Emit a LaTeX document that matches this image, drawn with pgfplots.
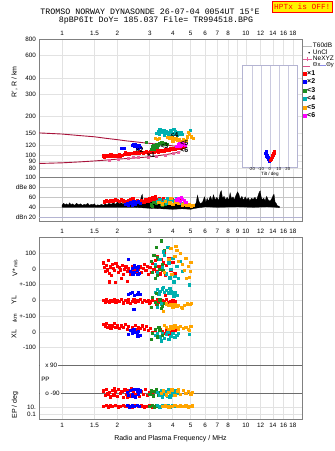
\documentclass[border=0pt]{standalone}
\usepackage{fontspec}
\setmainfont{Liberation Sans}
\newfontfamily\monofont{Liberation Mono}
\usepackage{pgfplots}
\pgfplotsset{compat=1.18}

\definecolor{framec}{HTML}{808080}
\definecolor{gridc}{HTML}{E2E2E2}
\definecolor{c1}{HTML}{FF0000}
\definecolor{c2}{HTML}{0000FF}
\definecolor{c3}{HTML}{1E8C1E}
\definecolor{c4}{HTML}{00B0B0}
\definecolor{c5}{HTML}{FFA500}
\definecolor{c6}{HTML}{FF00FF}
\definecolor{maroonc}{HTML}{A8123A}
\definecolor{nepink}{HTML}{E8609A}
\definecolor{lav}{HTML}{B4B4D2}
\definecolor{thy}{HTML}{8C8CE6}

\pgfplotsset{
  pts/.style={only marks, mark=square*, mark size=1.1pt, forget plot},
}

\begin{document}
\begin{tikzpicture}
\path[use as bounding box] (0pt,0pt) rectangle (335pt,451pt);

% ---------------- header ----------------
\node[font=\monofont\fontsize{8.3}{9}\selectfont, inner sep=0pt] at (150pt,439pt)
  {TROMSO NORWAY   DYNASONDE 26-07-04 0054UT 15°E};
\node[font=\monofont\fontsize{8.3}{9}\selectfont, inner sep=0pt] at (156pt,431pt)
  {8pBP6It DoY= 185.037 File= TR994518.BPG};
\node[font=\monofont\fontsize{7.8}{8}\selectfont, text=red, fill=yellow, draw=red,
  line width=0.8pt, minimum width=60pt, minimum height=11pt, inner sep=0pt]
  at (302.3pt,444.2pt) {HPTx is OFF!};

% ---------------- virtual range panel ----------------
\begin{axis}[scale only axis, at={(39.3pt,273.7pt)}, anchor=south west,
  width=262.4pt, height=138.3pt,
  xmode=log, xmin=0.7527, xmax=20.08,
  xtick={1,1.5,2,3,4,5,6,7,8,9,10,12,14,16,18},
  xticklabels={1,1.5,2,3,4,5,6,7,8,,10,12,14,16,18},
  xticklabel pos=right,
  ymode=log, ymin=68, ymax=800,
  ytick={80,90,100,120,150,200,300,400,600,800},
  yticklabels={80,90,100,120,150,200,300,400,600,800},
  axis line style={framec}, grid=major, grid style={gridc, line width=0.6pt},
  tick style={draw=none},
  tick label style={font=\fontsize{6.3}{7}\selectfont},
  legend style={at={(1.003,0.975)}, anchor=north west, draw=none, fill=none,
    font=\fontsize{6.5}{6.5}\selectfont, inner sep=0pt, row sep=-0.4pt,
    nodes={inner sep=0.4pt}, cells={anchor=west}},
  legend cell align=left]
\addlegendimage{legend image code/.code={\draw[gray!55, line width=0.9pt] (0pt,0pt)--(9pt,0pt);}}
\addlegendentry{T60dB}
\addlegendimage{legend image code/.code={\fill[black] (6pt,0pt) circle (0.55pt);}}
\addlegendentry{UnCl}
\addlegendimage{legend image code/.code={\draw[nepink, line width=0.6pt] (0pt,0pt)--(9pt,0pt);
  \draw[nepink, line width=0.6pt] (4.5pt,-2pt)--(4.5pt,2pt);}}
\addlegendentry{NeXYZ}
\addlegendimage{legend image code/.code={\draw[nepink!80!maroonc, line width=0.6pt] (0pt,-1.2pt)--(7pt,-1.2pt);}}
\addlegendentry{\raisebox{-1.2pt}{\fontsize{5.8}{5.8}\selectfont Θx\textcolor{thy}{\rule[0.5ex]{6pt}{0.6pt}}Θy}}

% model curves
\addplot[maroonc, line width=0.9pt, forget plot] coordinates {
 (0.7527,150) (1.0,147) (1.25,143) (1.5,140) (1.75,136) (2.0,133) (2.25,130)
 (2.5,128) (2.75,126) (3.0,124.5) (3.25,123) (3.5,122) (3.75,120.5) (4.0,119) (4.4,117)};
\addplot[maroonc, line width=0.9pt, forget plot] coordinates {
 (0.7527,87) (1.0,88) (1.25,89.5) (1.5,91) (1.75,92.5) (2.0,94) (2.25,95)
 (2.5,96) (2.75,97) (3.0,98) (3.25,99.5) (3.5,101) (3.75,102.5) (4.0,104) (4.4,107)};

% NeXYZ profile
\addplot[pts, nepink, mark size=1.0pt] coordinates {
 (1.807,92.6) (2.02,94.3) (2.29,95.4) (2.44,96.5) (2.58,97.7) (2.94,97.7)
 (3.27,98.9) (3.66,100.7) (4.03,104.4) (4.27,105.5)};

% echo classes
\addplot[pts, c1] coordinates {
 (1.67,100) (1.70,98) (1.73,101) (1.76,99) (1.80,100) (1.84,102) (1.88,100) (1.92,99)
 (1.96,101) (2.00,100) (2.04,102) (2.08,99) (2.12,101) (2.17,103) (2.20,107) (2.24,102)
 (2.28,104) (2.32,103) (2.37,105) (2.42,104) (2.47,106) (2.52,104) (2.57,107) (2.62,105)
 (2.67,108) (2.72,106) (2.77,104) (2.82,107) (2.88,108) (2.93,105) (2.98,106) (3.03,108)
 (3.08,106) (3.13,109) (3.18,107) (3.23,110) (3.28,108) (3.34,106) (3.40,110) (3.46,109)
 (3.52,111) (3.58,108) (3.64,112) (3.70,110) (3.76,113) (3.82,111) (3.88,114) (3.95,112)
 (4.02,115) (4.10,113) (4.18,116) (4.26,114) (4.34,117) (4.42,115) (4.50,118) (4.58,116)
 (4.66,119)};
\addplot[pts, c2] coordinates {
 (2.10,114) (2.18,115) (2.40,121) (2.44,122) (2.47,119) (2.50,123) (2.53,118)
 (2.56,121) (2.60,117) (2.63,120) (2.66,116) (2.58,114)};
\addplot[pts, c3] coordinates {
 (2.88,128) (3.10,118) (3.14,121) (3.20,119) (3.27,123) (3.33,120) (3.40,124)
 (3.48,126) (3.55,122) (3.62,125) (3.71,123) (3.07,112) (3.18,113) (3.30,116)};
\addplot[pts, c4] coordinates {
 (3.25,150) (3.32,154) (3.38,148) (3.45,156) (3.52,152) (3.58,158) (3.64,150)
 (3.70,155) (3.76,148) (3.82,153) (3.88,157) (3.94,151) (4.00,146) (4.06,150)
 (4.12,155) (4.20,149) (4.28,153) (4.36,147) (4.44,151) (4.52,146) (4.05,160)
 (3.60,145) (3.40,160) (4.95,157) (3.95,142) (4.24,143)};
\addplot[pts, c5] coordinates {
 (3.22,136) (3.30,135) (3.38,137) (3.75,138) (3.85,136) (3.95,139) (4.05,134)
 (4.15,137) (4.25,132) (4.35,135) (4.45,130) (4.55,133) (4.62,128) (4.70,131)
 (4.80,140) (4.90,146) (5.05,140) (5.15,137) (4.85,152) (4.00,129)};
\addplot[pts, c6] coordinates {
 (4.20,119) (4.28,122) (4.36,124) (4.44,121) (4.52,125) (4.60,122) (4.68,120) (4.40,118)};

% class labels
\addplot[only marks, mark=none, forget plot, point meta=explicit symbolic,
  nodes near coords, nodes near coords style={anchor=center, inner sep=0pt,
  font=\fontsize{7}{7}\selectfont\bfseries, text=black}] coordinates {
 (3.05,101)[×1] (2.64,111)[×2] (3.60,119)[<3] (4.08,145)[<4] (4.62,126)[<5] (4.62,111)[<6]};
\end{axis}

% ---------------- tilt inset ----------------
\begin{axis}[scale only axis, at={(242pt,283.7pt)}, anchor=south west,
  width=55.7pt, height=102.3pt, xmin=-31, xmax=31,
  ymode=log, ymin=81.3, ymax=505, ytick=\empty,
  xtick={-20,-10,0,10,20}, xticklabels={-20,-10,0,10,20},
  xmajorgrids, grid style={lav!70, line width=0.6pt},
  axis line style={lav, line width=0.8pt}, tick style={draw=none},
  axis background/.style={fill=white},
  tick label style={font=\fontsize{4.2}{4.4}\selectfont, inner sep=0.5pt},
  xlabel={Tilt / deg}, xlabel style={font=\fontsize{4.6}{4.6}\selectfont, inner sep=0pt},
  legend style={at={(1.095,0.955)}, anchor=north west, draw=none, fill=none,
    font=\fontsize{7}{7}\selectfont\bfseries, inner sep=0pt, row sep=0.9pt,
    nodes={inner sep=0.6pt}, cells={anchor=west}},
  legend cell align=left]
\addlegendimage{legend image code/.code={\fill[c1] (1.5pt,-1.5pt) rectangle (4.5pt,1.5pt);}}
\addlegendentry{×1}
\addlegendimage{legend image code/.code={\fill[c2] (1.5pt,-1.5pt) rectangle (4.5pt,1.5pt);}}
\addlegendentry{×2}
\addlegendimage{legend image code/.code={\fill[c3] (1.5pt,-1.5pt) rectangle (4.5pt,1.5pt);}}
\addlegendentry{<3}
\addlegendimage{legend image code/.code={\fill[c4] (1.5pt,-1.5pt) rectangle (4.5pt,1.5pt);}}
\addlegendentry{<4}
\addlegendimage{legend image code/.code={\fill[c5] (1.5pt,-1.5pt) rectangle (4.5pt,1.5pt);}}
\addlegendentry{<5}
\addlegendimage{legend image code/.code={\fill[c6] (1.5pt,-1.5pt) rectangle (4.5pt,1.5pt);}}
\addlegendentry{<6}
\addplot[pts, c2, mark size=1.2pt] coordinates {
 (-4.5,105) (-4.0,102) (-3.5,100) (-2.5,97) (-1.5,94) (-0.5,91.5) (-4.2,108)};
\addplot[pts, c1, mark size=1.2pt] coordinates {
 (0.5,92) (1.5,95) (2.5,98) (3.0,101) (3.5,102) (4.5,105) (5.0,108)};
\end{axis}

% ---------------- amplitude panel ----------------
\begin{axis}[scale only axis, at={(39.3pt,229.3pt)}, anchor=south west,
  width=262.4pt, height=44.4pt,
  xmode=log, xmin=0.7527, xmax=20.08,
  xtick={1,1.5,2,3,4,5,6,7,8,9,10,12,14,16,18},
  xticklabels={1,1.5,2,3,4,5,6,7,8,9,10,12,14,16,18},
  xticklabel style={yshift=-3.5pt},
  ymin=11.2, ymax=100, ytick={40,60,80,100}, yticklabels={40,60,dBe 80,100},
  axis line style={framec}, grid=major, grid style={gray!45, line width=0.6pt},
  tick style={draw=none},
  tick label style={font=\fontsize{6.3}{7}\selectfont},
  extra y ticks={20}, extra y tick labels={dBn 20},
  extra y tick style={grid style={lav, line width=0.8pt}}]
\addplot[fill=black, draw=black, line width=0.3pt, forget plot] coordinates {
 (1.00,44) (1.02,48) (1.04,45) (1.06,47) (1.08,44) (1.10,49) (1.12,45) (1.14,47)
 (1.17,44) (1.20,48) (1.23,45) (1.26,47) (1.29,44) (1.32,46) (1.35,45) (1.38,48)
 (1.41,44) (1.44,46) (1.47,45) (1.50,47) (1.53,43) (1.56,45) (1.60,44) (1.64,46)
 (1.68,44) (1.72,47) (1.76,45) (1.80,48) (1.85,46) (1.90,49) (1.95,46) (2.00,50)
 (2.05,47) (2.10,49) (2.15,46) (2.20,50) (2.25,47) (2.30,51) (2.35,48) (2.40,52)
 (2.45,49) (2.50,53) (2.55,49) (2.60,55) (2.65,50) (2.70,62) (2.73,66) (2.76,54)
 (2.80,52) (2.85,58) (2.90,50) (2.95,53) (3.00,49) (3.10,52) (3.20,48) (3.30,51)
 (3.40,47) (3.50,50) (3.60,46) (3.70,49) (3.80,45) (3.90,48) (4.00,46) (4.20,47)
 (4.40,45) (4.60,46) (4.80,44) (5.00,45) (5.20,44) (5.35,48) (5.45,64) (5.55,52)
 (5.65,47) (5.80,50) (5.95,61) (6.05,50) (6.15,58) (6.25,52) (6.40,62) (6.55,54)
 (6.65,65) (6.80,55) (6.95,60) (7.10,53) (7.25,70) (7.35,73) (7.45,58) (7.60,62)
 (7.75,55) (7.90,60) (8.05,54) (8.20,69) (8.35,57) (8.50,61) (8.65,55) (8.80,63)
 (9.00,71) (9.15,66) (9.30,56) (9.50,62) (9.70,54) (9.90,61) (10.1,55) (10.3,59)
 (10.5,53) (10.7,58) (10.95,56) (11.2,60) (11.4,54) (11.6,62) (11.8,70) (11.95,73)
 (12.1,60) (12.3,55) (12.5,58) (12.7,53) (12.95,62) (13.2,55) (13.5,52) (13.8,57)
 (14.05,64) (14.2,66) (14.4,50) (14.6,48) (14.8,43) (15.2,42)
 (15.2,39) (14.6,40) (13.0,41) (11.0,40) (9.0,41) (7.0,40) (6.0,41) (5.3,38)
 (5.0,36) (4.5,37) (4.0,36) (3.5,37) (3.0,38) (2.5,40) (2.0,40) (1.5,40) (1.0,40)}
 -- cycle;
\addplot[pts, c1] coordinates {
 (1.70,51) (1.74,53) (1.78,52) (1.82,54) (1.86,52) (1.90,53) (1.95,55) (2.00,54)
 (2.05,52) (2.10,55) (2.15,53) (2.20,52) (2.25,50) (2.30,53) (2.35,55) (2.42,57)
 (2.48,52) (2.55,54) (2.62,50) (2.70,53) (2.78,51) (2.85,55) (2.92,52) (3.00,57)
 (3.05,54) (3.10,59) (3.15,56) (3.22,61) (3.30,55) (3.38,58) (3.45,54) (3.55,57)
 (3.65,53) (3.75,56) (3.85,52) (3.95,55) (4.10,54) (4.25,56) (4.40,53)};
\addplot[pts, c2] coordinates {
 (2.20,46) (2.25,48) (2.35,49) (2.45,51) (2.50,47) (2.55,50) (2.60,52) (2.65,48)
 (2.40,45) (2.30,44)};
\addplot[pts, c3] coordinates {
 (3.05,45) (3.15,50) (3.25,48) (3.35,52) (3.45,47) (3.55,50) (3.65,46) (3.10,42) (3.50,44)};
\addplot[pts, c4] coordinates {
 (3.30,52) (3.40,55) (3.50,50) (3.60,53) (3.70,48) (3.80,51) (3.90,56) (4.00,54)
 (4.10,50) (4.20,57) (4.30,52) (4.45,48) (3.75,58)};
\addplot[pts, c5] coordinates {
 (3.35,50) (3.50,47) (3.65,52) (3.85,49) (4.00,46) (4.15,51) (4.30,48) (4.50,45)
 (4.60,47) (4.75,44) (4.90,45) (5.05,43) (5.15,44) (3.90,58)};
\addplot[pts, c6] coordinates {
 (4.20,55) (4.30,58) (4.40,52) (4.50,56) (4.60,54) (4.70,50) (4.45,60)};
\end{axis}

% ---------------- velocity / location / polarization panel ----------------
\begin{axis}[scale only axis, at={(39.3pt,31.7pt)}, anchor=south west,
  width=262.4pt, height=182.6pt,
  xmode=log, xmin=0.7527, xmax=20.08,
  xtick={1,1.5,2,3,4,5,6,7,8,9,10,12,14,16,18},
  xticklabels={1,1.5,2,3,4,5,6,7,8,,10,12,14,16,18},
  ymin=-554, ymax=605,
  ytick={500,400,300,200,100,0,-100,-478,-521},
  yticklabels={100,0,+-100,0,+-100,0,-100,10.,0.1},
  axis line style={framec}, grid=major, grid style={gridc, line width=0.6pt},
  tick style={draw=none},
  tick label style={font=\fontsize{6.3}{7}\selectfont},
  extra y ticks={-209.5,-389}, extra y tick labels={},
  extra y tick style={grid style={gray!85!black, line width=0.7pt}}]
% V* (m/s), drawn about its own baseline
\addplot[pts, c1, y filter/.expression={y+400}] coordinates {
 (1.68,40) (1.70,10) (1.72,-15) (1.74,25) (1.76,-5) (1.78,55) (1.80,-25) (1.83,15)
 (1.86,-40) (1.88,30) (1.90,5) (1.93,-10) (1.96,35) (1.99,20) (2.02,-20) (2.05,10)
 (2.08,-5) (2.12,25) (2.15,-35) (2.18,0) (2.22,15) (2.26,-15) (2.30,5) (2.35,-30)
 (2.40,20) (2.45,-10) (2.50,10) (2.55,-25) (2.60,0) (2.65,15) (2.70,-20) (2.75,5)
 (2.80,30) (2.85,-10) (2.90,20) (2.95,-35) (1.80,-80) (1.95,-85) (2.10,-60) (2.25,-75)
 (3.00,10) (3.05,-20) (3.10,35) (3.15,0) (3.20,55) (3.25,-15) (3.30,80) (3.35,20)
 (3.40,-30) (3.45,60) (3.50,-5) (3.55,40) (3.60,110) (3.65,-40) (3.70,25) (3.80,70)
 (3.90,-10) (4.00,45) (4.10,-25)};
\addplot[pts, c2, y filter/.expression={y+400}] coordinates {
 (2.35,-15) (2.40,5) (2.45,-20) (2.50,10) (2.55,-5) (2.60,15) (2.63,-25) (2.30,60)
 (2.48,25) (2.58,-35) (2.42,-30)};
\addplot[pts, c3, y filter/.expression={y+400}] coordinates {
 (3.05,50) (3.10,-20) (3.15,90) (3.20,20) (3.25,140) (3.30,-40) (3.35,60) (3.40,0)
 (3.45,180) (3.50,30) (3.55,-10) (3.60,120) (3.30,75) (3.20,-60)};
\addplot[pts, c4, y filter/.expression={y+400}] coordinates {
 (3.20,30) (3.30,-20) (3.40,60) (3.50,10) (3.60,90) (3.70,-30) (3.80,40) (3.90,0)
 (4.00,70) (4.10,-45) (4.20,20) (4.30,-60) (4.40,50) (4.50,-15) (4.90,-100) (3.75,140)
 (4.05,-80) (3.55,110) (3.85,-55)};
\addplot[pts, c5, y filter/.expression={y+400}] coordinates {
 (3.60,-20) (3.80,60) (3.95,-35) (4.10,80) (4.20,120) (4.30,50) (4.40,100) (4.50,30)
 (4.60,-10) (4.70,70) (4.85,20) (4.95,-15) (5.00,45) (4.90,-50) (4.75,-60) (3.90,130)
 (4.15,145)};
% YL (km)
\addplot[pts, c1, y filter/.expression={y+200}] coordinates {
 (1.68,0) (1.71,-8) (1.74,5) (1.77,-3) (1.80,-12) (1.84,2) (1.88,-5) (1.92,8)
 (1.96,-10) (2.00,3) (2.05,-6) (2.10,10) (2.15,-14) (2.20,0) (2.25,-8) (2.30,5)
 (2.35,-18) (2.40,-3) (2.45,6) (2.50,-10) (2.55,2) (2.60,-6) (2.65,8) (2.72,-12)
 (2.80,0) (2.88,-5) (2.95,4) (3.02,-8) (3.10,2) (3.20,-6) (3.30,5) (3.40,-10)
 (3.50,0) (3.60,-4) (3.70,8) (3.80,-12) (3.90,-3) (4.00,3) (4.10,-8) (3.65,35)
 (2.98,-15) (3.25,-20)};
\addplot[pts, c2, y filter/.expression={y+200}] coordinates {
 (2.35,45) (2.40,55) (2.48,35) (2.55,40) (2.60,50) (2.65,38) (2.45,-55) (2.30,40)};
\addplot[pts, c4, y filter/.expression={y+200}] coordinates {
 (3.20,55) (3.30,70) (3.40,60) (3.50,75) (3.60,55) (3.70,65) (3.80,50) (3.90,60)
 (4.00,45) (4.10,55) (3.35,40) (3.55,85) (3.85,78) (4.05,28) (4.20,35) (3.30,-45) (3.45,-20)};
\addplot[pts, c3, y filter/.expression={y+200}] coordinates {
 (3.10,20) (3.20,-10) (3.30,-25) (3.40,5) (3.50,-35) (3.60,-15) (3.05,-40) (3.25,45) (3.45,-50)};
\addplot[pts, c5, y filter/.expression={y+200}] coordinates {
 (3.70,-20) (3.80,-30) (3.90,-25) (4.00,-40) (4.10,-22) (4.20,-35) (4.30,-28) (4.45,-45)
 (4.60,-30) (4.80,-20) (4.95,-25) (5.05,-15) (3.55,-70) (4.50,-50)};
% XL (km)
\addplot[pts, c1] coordinates {
 (1.68,50) (1.71,35) (1.74,55) (1.77,30) (1.80,45) (1.84,25) (1.88,40) (1.92,55)
 (1.96,30) (2.00,45) (2.05,25) (2.10,40) (2.15,30) (2.20,50) (2.25,20) (2.30,35)
 (2.35,10) (2.40,30) (2.45,20) (2.50,45) (2.55,15) (2.60,30) (2.65,25) (2.72,40)
 (2.80,20) (2.88,35) (2.95,10) (3.02,25) (3.10,0) (3.20,15) (3.30,-10) (3.40,20)
 (3.50,5) (3.60,-5) (3.70,10) (3.80,-15) (3.90,5) (4.00,0) (4.10,10)};
\addplot[pts, c2] coordinates {
 (2.35,10) (2.40,-5) (2.45,15) (2.50,0) (2.55,-10) (2.60,5) (2.65,-20) (2.30,-15) (2.58,-25)};
\addplot[pts, c4] coordinates {
 (3.20,-20) (3.30,-5) (3.40,-30) (3.50,-10) (3.60,-40) (3.70,-15) (3.80,-45) (3.90,-25)
 (4.00,-5) (4.10,-35) (4.20,-20) (3.45,-55) (4.30,-10) (3.75,0) (4.90,-15)};
\addplot[pts, c3] coordinates {
 (3.10,-10) (3.20,20) (3.30,-30) (3.40,10) (3.50,-20) (3.05,-45) (3.35,30)};
\addplot[pts, c5] coordinates {
 (3.70,30) (3.80,20) (3.90,35) (4.00,25) (4.10,40) (4.20,30) (4.30,20) (4.40,35)
 (4.55,25) (4.70,30) (4.85,20) (5.00,35) (4.90,10) (3.60,45)};
% PP row
\addplot[pts, c1] coordinates {
 (1.68,-372) (1.71,-400) (1.74,-365) (1.77,-392) (1.80,-380) (1.83,-410) (1.87,-368)
 (1.91,-398) (1.95,-375) (1.99,-405) (2.03,-362) (2.07,-390) (2.11,-378) (2.15,-412)
 (2.19,-366) (2.23,-396) (2.28,-372) (2.33,-404) (2.38,-360) (2.44,-385) (2.50,-398)
 (2.56,-368) (2.62,-408) (2.68,-375) (2.75,-395) (2.82,-364) (2.90,-402) (2.97,-380)
 (3.04,-370) (3.10,-395) (1.93,-360) (2.25,-415)};
\addplot[pts, c2] coordinates {
 (2.25,-380) (2.30,-400) (2.35,-370) (2.40,-395) (2.45,-365) (2.50,-410) (2.55,-378)
 (2.60,-392) (2.65,-372) (2.42,-405) (2.58,-362)};
\addplot[pts, c3] coordinates {
 (3.00,-395) (3.06,-372) (3.12,-404) (3.18,-378) (3.25,-366) (3.32,-400) (3.38,-385)};
\addplot[pts, c4] coordinates {
 (3.30,-380) (3.38,-398) (3.46,-368) (3.55,-392) (3.63,-375) (3.72,-405) (3.80,-365)
 (3.90,-388) (4.00,-398) (4.10,-372) (4.20,-390) (3.50,-410) (3.85,-410)};
\addplot[pts, c5] coordinates {
 (3.45,-388) (3.55,-372) (3.68,-398) (3.80,-380) (3.95,-366) (4.10,-402) (4.25,-378)
 (4.40,-395) (4.55,-370) (4.70,-388) (4.85,-375) (5.00,-392) (5.10,-380) (4.30,-362)};
% EP row
\addplot[pts, c1] coordinates {
 (1.68,-470) (1.73,-466) (1.78,-474) (1.83,-468) (1.88,-472) (1.95,-466) (2.02,-474)
 (2.08,-470) (2.15,-466) (2.22,-472) (2.30,-468) (2.40,-474) (2.50,-466) (2.60,-472)
 (2.70,-468) (2.80,-474) (2.90,-470) (3.00,-466) (3.08,-474)};
\addplot[pts, c2] coordinates {
 (2.25,-466) (2.32,-474) (2.40,-468) (2.48,-472) (2.56,-466) (2.64,-472)};
\addplot[pts, c3] coordinates {
 (3.00,-472) (3.08,-466) (3.16,-474) (3.25,-468) (3.35,-472)};
\addplot[pts, c4] coordinates {
 (3.30,-466) (3.40,-474) (3.50,-468) (3.62,-472) (3.75,-466) (3.88,-474) (4.00,-468) (4.15,-472)};
\addplot[pts, c5] coordinates {
 (3.50,-472) (3.65,-468) (3.80,-474) (3.95,-470) (4.10,-466) (4.25,-472) (4.40,-468)
 (4.55,-472) (4.70,-468) (4.85,-474) (5.00,-470) (5.10,-468)};
% in-frame labels of the polarization rows
\node[fill=white, anchor=west, inner sep=1pt, font=\fontsize{6.3}{7}\selectfont]
  at (rel axis cs:0.003,0.2972) {\hspace{4pt}x 90};
\node[fill=white, anchor=west, inner sep=1pt, font=\fontsize{6.3}{7}\selectfont]
  at (rel axis cs:0.003,0.2189) {PP};
\node[fill=white, anchor=west, inner sep=1pt, font=\fontsize{6.3}{7}\selectfont]
  at (rel axis cs:0.003,0.1424) {\hspace{4pt}o -90};
\end{axis}

% ---------------- axis descriptions ----------------
\node[rotate=90, font=\fontsize{7}{8}\selectfont] at (14.5pt,369pt) {R', R / km};
\node[rotate=90, font=\fontsize{7}{8}\selectfont] at (15pt,183pt)
  {V*\,{\fontsize{5}{5}\selectfont m/s}};
\node[rotate=90, font=\fontsize{7}{8}\selectfont] at (14pt,151pt) {YL};
\node[rotate=90, font=\fontsize{5.5}{6}\selectfont] at (15pt,132.5pt) {/km};
\node[rotate=90, font=\fontsize{7}{8}\selectfont] at (14pt,117pt) {XL};
\node[rotate=90, font=\fontsize{7}{8}\selectfont] at (15pt,46pt) {EP / deg};
\node[font=\fontsize{7}{8}\selectfont] at (170.5pt,12pt) {Radio and Plasma Frequency / MHz};
\end{tikzpicture}
\end{document}
